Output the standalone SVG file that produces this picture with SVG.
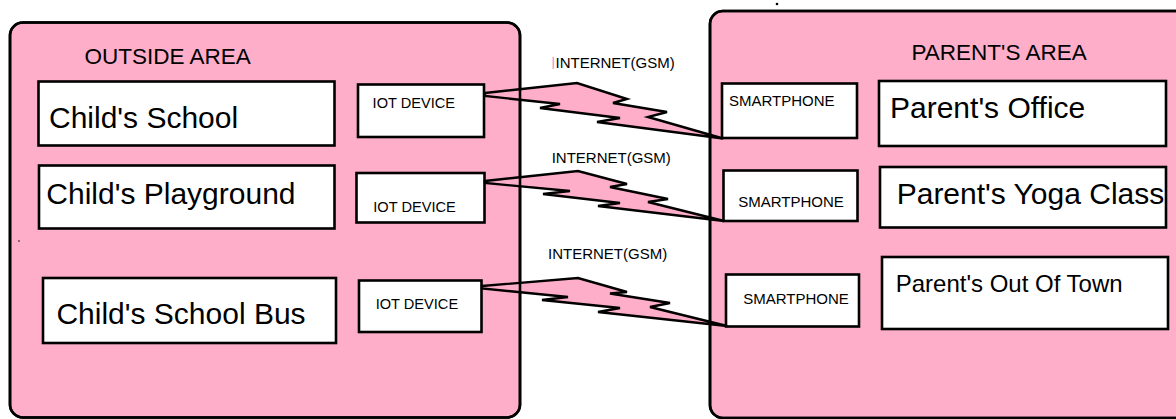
<svg xmlns="http://www.w3.org/2000/svg" width="1176" height="419" viewBox="0 0 1176 419">
<style>
.area{fill:#FFAEC9;stroke:#000;stroke-width:2.6}
.outline{fill:none;stroke:#000;stroke-width:2.6}
.box{fill:#fff;stroke:#000;stroke-width:2.6}
.bolt{fill:#FFAEC9;stroke:#000;stroke-width:2.4;stroke-linejoin:miter}
text{font-family:"Liberation Sans",Arial,sans-serif;fill:#000}
.big{font-size:30px}
.mid{font-size:24px}
.head{font-size:22.5px}
.small{font-size:14.6px}
.net{font-size:15px}
</style>
<rect width="1176" height="419" fill="#fff"/>
<g id="outside-area">
<rect class="area" x="10" y="22.5" width="510" height="395" rx="13"/>
<text class="head" x="84.5" y="63.5">OUTSIDE AREA</text>
</g>
<g id="parents-area">
<rect class="area" x="710" y="11" width="490" height="407" rx="13"/>
<text class="head" x="911.5" y="60">PARENT'S AREA</text>
</g>
<g id="childs-school"><rect class="box" x="38.5" y="81.5" width="296" height="64"/><text class="big" x="49" y="128">Child's School</text></g>
<g id="childs-playground"><rect class="box" x="39" y="165.5" width="295.5" height="63"/><text class="big" x="46.3" y="204">Child's Playground</text></g>
<g id="childs-school-bus"><rect class="box" x="43" y="278" width="293" height="65"/><text class="big" x="56.4" y="323.6">Child's School Bus</text></g>
<g id="iot-device-1"><rect class="box" x="358" y="84.5" width="126" height="52.5"/><text class="small" x="372.6" y="108">IOT DEVICE</text></g>
<g id="iot-device-2"><rect class="box" x="356.5" y="173" width="128" height="49.5"/><text class="small" x="373.3" y="211.8">IOT DEVICE</text></g>
<g id="iot-device-3"><rect class="box" x="359" y="280.5" width="122.5" height="51.5"/><text class="small" x="375.7" y="309">IOT DEVICE</text></g>
<g id="smartphone-1"><rect class="box" x="722" y="83.5" width="135" height="54.5"/><text class="net" x="729" y="106">SMARTPHONE</text></g>
<g id="smartphone-2"><rect class="box" x="723.5" y="170.5" width="134" height="50.5"/><text class="net" x="738.3" y="206.7">SMARTPHONE</text></g>
<g id="smartphone-3"><rect class="box" x="726" y="274.5" width="133" height="52"/><text class="net" x="743.3" y="304.3">SMARTPHONE</text></g>
<g id="parents-office"><rect class="box" x="879" y="81" width="287" height="65"/><text class="big" x="890" y="118">Parent's Office</text></g>
<g id="parents-yoga-class"><rect class="box" x="880" y="167" width="286" height="60.5"/><text class="big" x="896.7" y="204">Parent's Yoga Class</text></g>
<g id="parents-out-of-town"><rect class="box" x="882" y="257" width="286" height="72"/><text class="mid" x="895.7" y="291.7">Parent's Out Of Town</text></g>
<g id="connectors">
<polygon class="bolt" points="485,93 577,83 627,99 613,103 667,112 648,117 723,138.5 597,122 620,118 540,108 560,104 485,96"/>
<polygon class="bolt" points="485,181 578,171 627,184 610,187 668,199 648,202 724,221 598,206 620,203 543,194 570,191 485,183"/>
<polygon class="bolt" points="482,286 578,278 627,292 610,293.5 670,303 650,307 727,326 598,312 620,308 542,300 568,297 482,288.5"/>
<text class="net" x="555.5" y="68.3">INTERNET(GSM)</text>
<text class="net" x="551.7" y="163">INTERNET(GSM)</text>
<text class="net" x="548" y="259">INTERNET(GSM)</text>
</g>
<g id="area-borders">
<rect class="outline" x="10" y="22.5" width="510" height="395" rx="13"/>
<rect class="outline" x="710" y="11" width="490" height="407" rx="13"/>
</g>
<g id="marks">
<rect x="552.5" y="57" width="1.6" height="12" fill="#F5A3BC"/>
<circle cx="777" cy="4" r="1.3" fill="#000"/>
<circle cx="19" cy="241" r="0.8" fill="#000"/>
</g>
</svg>
